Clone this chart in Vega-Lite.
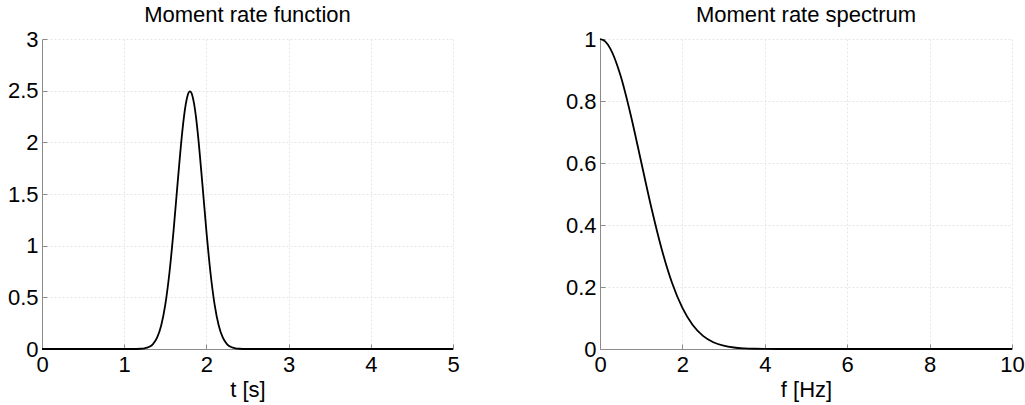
{
  "$schema": "https://vega.github.io/schema/vega-lite/v6.json",
  "padding": {"left": 7, "top": 4, "right": 5, "bottom": 5},
  "background": "white",
  "datasets": {
    "mrf": [
      {"t": 0, "v": 0}, {"t": 0.5, "v": 0}, {"t": 1.0, "v": 0}, {"t": 1.1, "v": 0.0002},
      {"t": 1.2, "v": 0.0022}, {"t": 1.25, "v": 0.0068}, {"t": 1.3, "v": 0.0189},
      {"t": 1.35, "v": 0.0478}, {"t": 1.4, "v": 0.1096}, {"t": 1.45, "v": 0.2279},
      {"t": 1.5, "v": 0.4299}, {"t": 1.55, "v": 0.7356}, {"t": 1.6, "v": 1.141},
      {"t": 1.65, "v": 1.607}, {"t": 1.7, "v": 2.051}, {"t": 1.725, "v": 2.234},
      {"t": 1.75, "v": 2.374}, {"t": 1.775, "v": 2.463}, {"t": 1.8, "v": 2.493},
      {"t": 1.825, "v": 2.463}, {"t": 1.85, "v": 2.374}, {"t": 1.875, "v": 2.234},
      {"t": 1.9, "v": 2.051}, {"t": 1.95, "v": 1.607}, {"t": 2.0, "v": 1.141},
      {"t": 2.05, "v": 0.7356}, {"t": 2.1, "v": 0.4299}, {"t": 2.15, "v": 0.2279},
      {"t": 2.2, "v": 0.1096}, {"t": 2.25, "v": 0.0478}, {"t": 2.3, "v": 0.0189},
      {"t": 2.35, "v": 0.0068}, {"t": 2.4, "v": 0.0022}, {"t": 2.5, "v": 0.0002},
      {"t": 2.6, "v": 0}, {"t": 3, "v": 0}, {"t": 4, "v": 0}, {"t": 5, "v": 0}
    ],
    "mrs": [
      {"f": 0, "a": 1}, {"f": 0.125, "a": 0.9921}, {"f": 0.25, "a": 0.9689}, {"f": 0.5, "a": 0.8813},
      {"f": 0.75, "a": 0.7526}, {"f": 1.0, "a": 0.6033}, {"f": 1.25, "a": 0.4541},
      {"f": 1.5, "a": 0.3208}, {"f": 1.75, "a": 0.2128}, {"f": 2.0, "a": 0.1325},
      {"f": 2.25, "a": 0.0774}, {"f": 2.5, "a": 0.0425}, {"f": 2.75, "a": 0.0219},
      {"f": 3.0, "a": 0.0106}, {"f": 3.25, "a": 0.0048}, {"f": 3.5, "a": 0.0021},
      {"f": 3.75, "a": 0.0008}, {"f": 4.0, "a": 0.0003}, {"f": 4.5, "a": 0},
      {"f": 5, "a": 0}, {"f": 6, "a": 0}, {"f": 8, "a": 0}, {"f": 10, "a": 0}
    ]
  },
  "config": {
    "view": {"stroke": null},
    "font": "Liberation Sans",
    "title": {"font": "Liberation Sans", "fontSize": 22, "fontWeight": "normal", "color": "black", "baseline": "alphabetic", "offset": 1, "anchor": "middle"},
    "axis": {
      "labelFont": "Liberation Sans", "labelFontSize": 22, "labelColor": "black",
      "titleFont": "Liberation Sans", "titleFontSize": 22, "titleFontWeight": "normal", "titleColor": "black",
      "domainColor": "#8c8c8c", "domainWidth": 1,
      "tickColor": "#8c8c8c", "tickSize": -5,
      "grid": true, "gridColor": "#e6e6e6", "gridDash": [2, 2], "gridWidth": 1,
      "labelOverlap": false, "labelFlush": false, "format": ".1~f"
    },
    "axisX": {"labelPadding": 10, "titlePadding": 4},
    "axisY": {"labelPadding": 9, "title": null}
  },
  "spacing": 147,
  "bounds": "flush",
  "hconcat": [
    {
      "title": "Moment rate function",
      "width": 411,
      "height": 310,
      "data": {"name": "mrf"},
      "mark": {"type": "line", "color": "black", "strokeWidth": 1.8, "interpolate": "monotone"},
      "encoding": {
        "x": {"field": "t", "type": "quantitative", "scale": {"domain": [0, 5], "nice": false}, "axis": {"title": "t [s]", "values": [0, 1, 2, 3, 4, 5]}},
        "y": {"field": "v", "type": "quantitative", "scale": {"domain": [0, 3], "nice": false}, "axis": {"title": null, "values": [0, 0.5, 1, 1.5, 2, 2.5, 3]}}
      }
    },
    {
      "title": "Moment rate spectrum",
      "width": 412,
      "height": 310,
      "data": {"name": "mrs"},
      "mark": {"type": "line", "color": "black", "strokeWidth": 1.8, "interpolate": "monotone"},
      "encoding": {
        "x": {"field": "f", "type": "quantitative", "scale": {"domain": [0, 10], "nice": false}, "axis": {"title": "f [Hz]", "values": [0, 2, 4, 6, 8, 10]}},
        "y": {"field": "a", "type": "quantitative", "scale": {"domain": [0, 1], "nice": false}, "axis": {"title": null, "values": [0, 0.2, 0.4, 0.6, 0.8, 1]}}
      }
    }
  ]
}
